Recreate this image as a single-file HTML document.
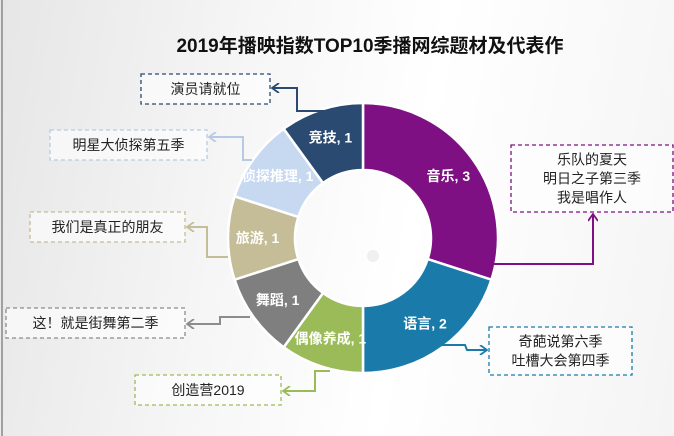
<!DOCTYPE html>
<html><head><meta charset="utf-8"><style>
html,body{margin:0;padding:0;width:674px;height:436px;overflow:hidden}
body{background:linear-gradient(100deg,#e6e6e6 0%,#f6f6f6 35%,#ffffff 60%,#f4f4f4 100%);font-family:"Liberation Sans","Noto Sans CJK SC",sans-serif}
</style></head><body>
<svg width="674" height="436" xmlns="http://www.w3.org/2000/svg" style="position:absolute;left:0;top:0">
<defs id="defs"></defs>
<line x1="2" y1="0" x2="2" y2="436" stroke="#888" stroke-width="1.5"/>
<text x="370" y="52" text-anchor="middle" font-size="19" font-weight="bold" fill="#111">2019年播映指数TOP10季播网综题材及代表作</text>
<g id="slices"></g>
<circle cx="373" cy="256" r="6" fill="#f0f0f0"/>
<g id="callouts"></g>
</svg>
<script>
const categories=["音乐","语言","偶像养成","舞蹈","旅游","侦探推理","竞技"];
const values=[3,2,1,1,1,1,1];
const colors=["#7e1083","#1a7bab","#9bbb59","#7f7f7f","#c4bd97","#c6d9f1","#2a4a72"];
const NS="http://www.w3.org/2000/svg";
const cx=363,cy=238,R=135,r=68;
const total=values.reduce((a,b)=>a+b,0);
const g=document.getElementById('slices');
function pt(a,rad){return [cx+rad*Math.sin(a),cy-rad*Math.cos(a)];}
let acc=0;
values.forEach((v,i)=>{
  const a0=acc/total*2*Math.PI, a1=(acc+v)/total*2*Math.PI; acc+=v;
  const large=(a1-a0)>Math.PI?1:0;
  const p0=pt(a0,R),p1=pt(a1,R),q1=pt(a1,r),q0=pt(a0,r);
  const p=document.createElementNS(NS,'path');
  p.setAttribute('d',`M${p0} A${R},${R} 0 ${large} 1 ${p1} L${q1} A${r},${r} 0 ${large} 0 ${q0} Z`);
  p.setAttribute('fill',colors[i]);p.setAttribute('stroke','#fff');p.setAttribute('stroke-width','2.5');
  
  
  g.appendChild(p);
  const am=(a0+a1)/2;const lp=pt(am,(R+r)/2+4);
  const t=document.createElementNS(NS,'text');
  t.setAttribute('x',lp[0]);t.setAttribute('y',lp[1]+5);t.setAttribute('text-anchor','middle');
  t.setAttribute('font-size','14');t.setAttribute('font-weight','bold');t.setAttribute('fill','#fff');
  
  
  t.textContent=categories[i]+", "+values[i];
  g.appendChild(t);
});
const callouts=[
 {lines:["乐队的夏天","明日之子第三季","我是唱作人"],x:511,y:145,w:162,h:67,c:"#7e1083",path:"M493,264 L593,264 L593,214"},
 {lines:["奇葩说第六季","吐槽大会第四季"],x:489,y:327,w:143,h:48,c:"#1a7bab",path:"M440,345 L465,345 L467,350 L487,350"},
 {lines:["创造营2019"],x:135,y:375,w:146,h:30,c:"#9bbb59",path:"M330,371 L315,371 L315,391 L283,391"},
 {lines:["这！就是街舞第二季"],x:6,y:308,w:179,h:30,c:"#8c8c8c",path:"M250,317 L220,317 L220,324 L187,324"},
 {lines:["我们是真正的朋友"],x:30,y:212,w:155,h:30,c:"#c4bd97",path:"M228,257 L207,257 L207,227 L187,227"},
 {lines:["明星大侦探第五季"],x:50,y:130,w:157,h:30,c:"#b8c9e4",path:"M252,160 L243,160 L243,137 L209,137"},
 {lines:["演员请就位"],x:141,y:74,w:129,h:30,c:"#2a4a72",path:"M330,111 L297,111 L297,88 L272,88"}
];
const defs=document.getElementById('defs');
const cg=document.getElementById('callouts');
callouts.forEach((c,i)=>{
  const m=document.createElementNS(NS,'marker');
  m.setAttribute('id','ah'+i);m.setAttribute('viewBox','0 0 10 10');m.setAttribute('refX','9');m.setAttribute('refY','5');
  m.setAttribute('markerWidth','10');m.setAttribute('markerHeight','10');m.setAttribute('orient','auto');m.setAttribute('markerUnits','userSpaceOnUse');
  const mp=document.createElementNS(NS,'path');
  mp.setAttribute('d','M2,0 L9,5 L2,10');mp.setAttribute('fill','none');mp.setAttribute('stroke',c.c);mp.setAttribute('stroke-width','1.8');
  m.appendChild(mp);defs.appendChild(m);
  const rect=document.createElementNS(NS,'rect');
  rect.setAttribute('x',c.x);rect.setAttribute('y',c.y);rect.setAttribute('width',c.w);rect.setAttribute('height',c.h);
  rect.setAttribute('fill','rgba(255,255,255,0.6)');rect.setAttribute('stroke',c.c);rect.setAttribute('stroke-dasharray','4,3');rect.setAttribute('stroke-width','1.3');
  
  
  cg.appendChild(rect);
  c.lines.forEach((l,j)=>{
    const t=document.createElementNS(NS,'text');
    const y0=c.y+c.h/2-(c.lines.length-1)*9.5+5+j*19;
    t.setAttribute('x',c.x+c.w/2);t.setAttribute('y',y0);t.setAttribute('text-anchor','middle');
    t.setAttribute('font-size','14');t.setAttribute('fill','#222');
    
    
    t.textContent=l;cg.appendChild(t);
  });
  const p=document.createElementNS(NS,'path');
  p.setAttribute('d',c.path);p.setAttribute('fill','none');p.setAttribute('stroke',c.c);p.setAttribute('stroke-width','2');
  p.setAttribute('marker-end','url(#ah'+i+')');
  
  
  cg.appendChild(p);
});
</script>
</body></html>
